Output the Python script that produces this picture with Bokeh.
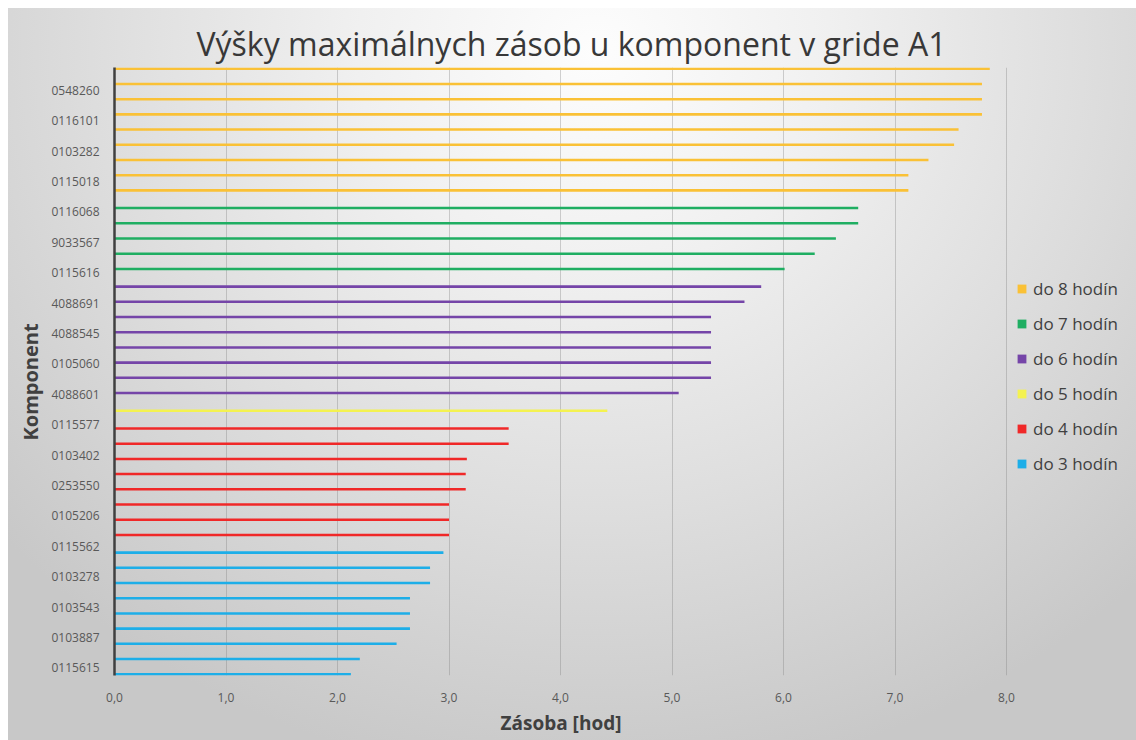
from bokeh.plotting import figure
from bokeh.models import FixedTicker, Legend, LegendItem, Range1d, ColumnDataSource, Title
from bokeh.embed import file_html
from bokeh.resources import INLINE

# ---------------- data ----------------
groups = ["do 8 hodín", "do 7 hodín", "do 6 hodín", "do 5 hodín", "do 4 hodín", "do 3 hodín"]
colors = ["#FAC136", "#1FAE62", "#7545A8", "#F4F250", "#F02828", "#1DAEE8"]

# values listed from top of chart to bottom, per group
v8 = [7.85, 7.78, 7.78, 7.78, 7.57, 7.53, 7.30, 7.12, 7.12]
v7 = [6.67, 6.67, 6.47, 6.28, 6.01]
v6 = [5.80, 5.65, 5.35, 5.35, 5.35, 5.35, 5.35, 5.06]
v5 = [4.42]
v4 = [3.535, 3.535, 3.16, 3.15, 3.15, 3.00, 3.00, 3.00]
v3 = [2.95, 2.83, 2.83, 2.65, 2.65, 2.65, 2.53, 2.20, 2.12]
series = [v8, v7, v6, v5, v4, v3]

# visible category labels (every second category), top to bottom
tick_labels = ["0548260", "0116101", "0103282", "0115018", "0116068", "9033567",
               "0115616", "4088691", "4088545", "0105060", "4088601", "0115577",
               "0103402", "0253550", "0105206", "0115562", "0103278", "0103543",
               "0103887", "0115615"]

x_tick_values = [0, 1, 2, 3, 4, 5, 6, 7, 8]
x_tick_labels = ["0,0", "1,0", "2,0", "3,0", "4,0", "5,0", "6,0", "7,0", "8,0"]

# ---------------- layout ----------------
n_cat = sum(len(s) for s in series)
n_ser = len(series)
W, H = 1136, 740
left, top, right, bottom = 114, 67, 0, 65
px_per_unit = 111.5
x_max = (W - left - right) / px_per_unit

p = figure(width=W, height=H, output_backend="svg", toolbar_location=None,
           x_range=Range1d(0, x_max), y_range=Range1d(-0.5, n_cat - 0.5),
           min_border_left=left, min_border_top=top, min_border_right=right,
           min_border_bottom=bottom, tools="")
p.styles = {"background": "radial-gradient(ellipse 70% 100% at 52% 6%, #fdfdfd 0%, #f0f0f0 30%, #dedede 62%, #c8c8c8 100%) 8px 8px / calc(100% - 8px) calc(100% - 8px) no-repeat, #ffffff"}
p.border_fill_alpha = 0
p.background_fill_alpha = 0
p.outline_line_color = None

p.title.text = "Výšky maximálnych zásob u komponent v gride A1"
p.title.align = "left"
p.title.offset = 82
p.title.text_font = "Open Sans"
p.title.text_font_size = "32px"
p.title.text_font_style = "normal"
p.title.text_color = "#383838"
p.title.standoff = 5

items = []
idx = 0
for k, (vals, col, name) in enumerate(zip(series, colors, groups)):
    off = (n_ser - 1 - 2 * k) / (2 * n_ser)  # first series (8h) at top of slot
    ys = [n_cat - 1 - (idx + i) + off for i in range(len(vals))]
    idx += len(vals)
    src = ColumnDataSource(dict(y=ys, right=vals))
    r = p.hbar(y="y", left=0, right="right", height=1.0 / n_ser, source=src,
               fill_color=col, line_color=None)
    items.append(LegendItem(label=name, renderers=[r]))

# axes
p.xaxis.ticker = FixedTicker(ticks=x_tick_values)
p.xaxis.major_label_overrides = {v: s for v, s in zip(x_tick_values, x_tick_labels)}
p.xaxis.axis_line_color = None
p.xaxis.major_tick_line_color = None
p.xaxis.minor_tick_line_color = None
p.xaxis.major_label_text_font = "Open Sans"
p.xaxis.major_label_text_font_size = "12px"
p.xaxis.major_label_text_color = "#595959"
p.xaxis.major_label_standoff = 11

xlab = Title(text="Zásoba [hod]", align="left", offset=386, standoff=6,
             text_font="Open Sans", text_font_size="19px", text_font_style="bold",
             text_color="#404040")
p.add_layout(xlab, "below")

y_ticks = [n_cat - 2 - 2 * j for j in range(len(tick_labels))]
p.yaxis.ticker = FixedTicker(ticks=y_ticks)
p.yaxis.major_label_overrides = {t: s for t, s in zip(y_ticks, tick_labels)}
p.yaxis.axis_line_color = "#404040"
p.yaxis.axis_line_width = 2.5
p.yaxis.major_tick_line_color = None
p.yaxis.minor_tick_line_color = None
p.yaxis.major_label_text_font = "Open Sans"
p.yaxis.major_label_text_font_size = "12px"
p.yaxis.major_label_text_color = "#595959"
p.yaxis.major_label_standoff = 9

ylab = Title(text="Komponent", align="left", offset=235, standoff=10,
             text_font="Open Sans", text_font_size="20px", text_font_style="bold",
             text_color="#404040")
p.add_layout(ylab, "left")

p.xgrid.grid_line_color = "#7f7f7f"
p.xgrid.grid_line_alpha = 0.35
p.xgrid.grid_line_width = 1
p.ygrid.grid_line_color = None

legend = Legend(items=items, location=(902, 200), orientation="vertical",
                glyph_width=11, glyph_height=11, label_standoff=6,
                label_height=20, spacing=12, padding=0, margin=0,
                border_line_color=None, background_fill_alpha=0,
                label_text_font="Open Sans", label_text_font_size="17px",
                label_text_color="#404040")
p.add_layout(legend)

open("out.html", "w").write(file_html(p, INLINE))
